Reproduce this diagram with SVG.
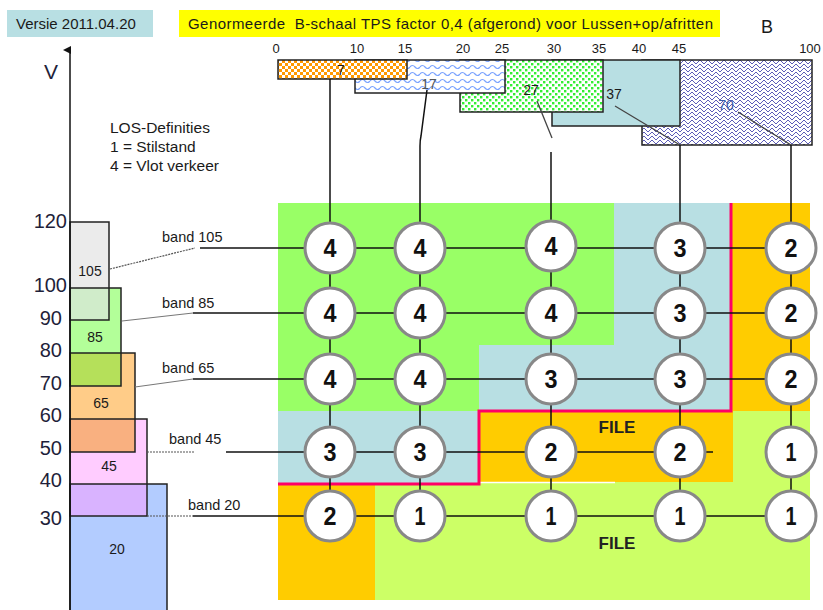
<svg xmlns="http://www.w3.org/2000/svg" width="823" height="610" viewBox="0 0 823 610">
<style>
text{font-family:"Liberation Sans",Arial,sans-serif;fill:#1a1a1a}
.ax{font-size:20px;text-anchor:end;fill:#1f1f3a}
.sc{font-size:13px;text-anchor:middle}
.bl{font-size:14.5px}
.bx{font-size:14px;text-anchor:middle}
.num{font-family:"Liberation Sans Narrow","Liberation Sans",Arial,sans-serif;font-size:25px;font-weight:bold;text-anchor:middle;fill:#111}
.node circle{fill:#fff;stroke:#888;stroke-width:3}
.ol{stroke:#222;stroke-width:1.5}
.olb{fill:none;stroke:#222;stroke-width:1.5}
.ln{fill:none;stroke:#111;stroke-width:1.5}
.ld{fill:none;stroke:#444;stroke-width:1.3}
.dt{fill:none;stroke:#555;stroke-width:1.2;stroke-dasharray:2 1}
.file{font-size:17px;font-weight:bold;text-anchor:middle;fill:#222}
</style>
<defs>
<pattern id="pOr" width="6" height="6" patternUnits="userSpaceOnUse"><rect width="6" height="6" fill="#fff"/><rect x="0" y="0" width="3" height="3" fill="#ff9900"/><rect x="3" y="3" width="3" height="3" fill="#ff9900"/></pattern>
<pattern id="pBl" width="10" height="7" patternUnits="userSpaceOnUse"><rect width="10" height="7" fill="#fff"/><path d="M0,4 Q2.5,1 5,4 T10,4" fill="none" stroke="#7aa3ff" stroke-width="1.2"/></pattern>
<pattern id="pGr" width="6" height="6" patternUnits="userSpaceOnUse"><rect width="6" height="6" fill="#fff"/><rect x="0" y="0" width="2.4" height="2.4" fill="#33ee33"/><rect x="3" y="3" width="2.4" height="2.4" fill="#33ee33"/></pattern>
<pattern id="pNv" width="8" height="8" patternUnits="userSpaceOnUse"><rect width="8" height="8" fill="#fff"/><path d="M0,4 L4,0 L8,4 M0,8 L4,4 L8,8" fill="none" stroke="#4a4ab0" stroke-width="0.9"/></pattern>
<marker id="arr" markerWidth="8" markerHeight="8" refX="4" refY="7" orient="auto-start-reverse" markerUnits="userSpaceOnUse"><path d="M0,8 L4,0 L8,8 Z" fill="#111"/></marker>
</defs>

<!-- header -->
<g id="versie"><rect x="7" y="10" width="146" height="27" fill="#b8dfe3"/><text x="16" y="29" style="font-size:15px">Versie 2011.04.20</text></g>
<g id="title"><rect x="179" y="10" width="541" height="27" fill="#ffff00"/><text x="188" y="29" style="font-size:15px" textLength="525" lengthAdjust="spacing" xml:space="preserve">Genormeerde  B-schaal TPS factor 0,4 (afgerond) voor Lussen+op/afritten</text></g>
<text x="767" y="33" style="font-size:18px;text-anchor:middle">B</text>

<!-- scale -->
<g id="scale">
<text class="sc" x="276" y="53">0</text><text class="sc" x="357" y="53">10</text><text class="sc" x="405" y="53">15</text><text class="sc" x="463" y="53">20</text><text class="sc" x="502" y="53">25</text><text class="sc" x="554" y="53">30</text><text class="sc" x="599" y="53">35</text><text class="sc" x="639" y="53">40</text><text class="sc" x="679" y="53">45</text><text class="sc" x="810" y="53">100</text>
</g>

<!-- B-scale boxes -->
<g id="b70"><rect x="642" y="60" width="170" height="85" fill="url(#pNv)" class="ol"/></g>
<g id="b37"><rect x="552" y="60" width="128" height="66" fill="#b8dfe3" class="ol"/></g>
<g id="b27"><rect x="460" y="60" width="143" height="52" fill="url(#pGr)" class="ol"/></g>
<g id="b17"><rect x="355" y="60" width="150" height="33" fill="url(#pBl)" class="ol"/></g>
<g id="b7"><rect x="278" y="60" width="129" height="19" fill="url(#pOr)" class="ol"/></g>
<text class="bx" x="341" y="75">7</text>
<text class="bx" x="429" y="89" style="fill:#555">17</text>
<text class="bx" x="531" y="95">27</text>
<text class="bx" x="614" y="99">37</text>
<text class="bx" x="726" y="110" style="fill:#3b5aa8">70</text>

<!-- LOS -->
<g id="los" style="font-size:15.5px"><text x="110" y="133">LOS-Definities</text><text x="110" y="152">1 = Stilstand</text><text x="110" y="171">4 = Vlot verkeer</text></g>

<!-- V axis -->
<g id="vaxis">
<text x="51" y="79" style="font-size:21px;text-anchor:middle;fill:#1f1f3a">V</text>
<text class="ax" x="67" y="228">120</text><text class="ax" x="67" y="292">100</text><text class="ax" x="62" y="325">90</text><text class="ax" x="62" y="357">80</text><text class="ax" x="62" y="390">70</text><text class="ax" x="62" y="422">60</text><text class="ax" x="62" y="455">50</text><text class="ax" x="62" y="487">40</text><text class="ax" x="62" y="525">30</text>
</g>

<!-- band boxes -->
<g id="bands">
<rect x="70" y="222" width="39" height="98" fill="#ebebeb"/>
<rect x="70" y="288" width="51" height="98" fill="#b3ff99"/>
<rect x="70" y="288" width="39" height="32" fill="#d0ecca"/>
<rect x="70" y="353" width="65" height="99" fill="#ffcc88"/>
<rect x="70" y="353" width="51" height="33" fill="#b5e05a"/>
<rect x="70" y="419" width="77" height="97" fill="#ffccff"/>
<rect x="70" y="419" width="65" height="33" fill="#f9b080"/>
<rect x="70" y="484" width="97" height="130" fill="#b3ccff"/>
<rect x="70" y="484" width="77" height="32" fill="#d9b3ff"/>
<rect class="olb" x="70" y="222" width="39" height="98"/>
<rect class="olb" x="70" y="288" width="51" height="98"/>
<rect class="olb" x="70" y="353" width="65" height="99"/>
<rect class="olb" x="70" y="419" width="77" height="97"/>
<rect class="olb" x="70" y="484" width="97" height="130"/>
<text class="bx" x="90" y="276">105</text><text class="bx" x="95" y="342">85</text><text class="bx" x="101" y="408">65</text><text class="bx" x="109" y="471">45</text><text class="bx" x="117" y="554">20</text>
</g>
<line x1="70" y1="610" x2="70" y2="50" stroke="#111" stroke-width="1.5" marker-end="url(#arr)"/>

<!-- background areas -->
<g id="areas">
<path d="M278,203 H614 V345 H479 V411 H278 Z" fill="#99ff66"/>
<path d="M614,203 H731 V411 H479 V483 H278 V411 H479 V345 H614 Z" fill="#b8dfe3"/>
<rect x="731" y="203" width="79" height="208" fill="#ffcc00"/>
<rect x="479" y="411" width="254" height="71" fill="#ffcc00"/>
<rect x="733" y="411" width="77" height="72" fill="#ccff66"/>
<rect x="375" y="483" width="435" height="117" fill="#ccff66"/>
<rect x="479" y="482" width="254" height="1" fill="#ccff66"/>
<rect x="278" y="483" width="97" height="117" fill="#ffcc00"/>
<line x1="479" y1="482.5" x2="615" y2="482.5" stroke="#fff" stroke-width="1.5"/>
<path d="M731,203 V411 H479 V484 H278" fill="none" stroke="#ff0066" stroke-width="3"/>
<text class="file" x="617" y="433">FILE</text>
<text class="file" x="617" y="549">FILE</text>
</g>

<!-- band labels -->
<g id="bandlabels" class="bl">
<text x="162" y="242">band 105</text><text x="162" y="308">band 85</text><text x="162" y="373">band 65</text><text x="169" y="444">band 45</text><text x="188" y="510">band 20</text>
</g>

<!-- connectors -->
<g id="connectors">
<path class="dt" d="M110,269 L195,248"/>
<path class="ld" d="M122,321 L193,313" style="stroke:#777;stroke-width:1"/>
<path class="ld" d="M135,387 L193,379" style="stroke:#777;stroke-width:1"/>
<path class="dt" d="M147,452 L194,452"/>
<path class="dt" d="M147,516 L193,516"/>
<path class="ln" d="M200,248 H791"/>
<path class="ln" d="M193,313 H791"/>
<path class="ln" d="M193,379 H791"/>
<path class="ln" d="M226,452 H713"/>
<path class="ln" d="M193,516 H791"/>
<path class="ln" d="M330,79 V516"/>
<path class="ln" d="M427,90 L421,136 Q420,140 420,146 V516"/>
<path class="ld" d="M537,101 L552,138"/>
<path class="ln" d="M551,152 V516"/>
<path class="ld" d="M615,106 L680,145"/>
<path class="ln" d="M680,145 V516"/>
<path class="ld" d="M738,112 L791,145"/>
<path class="ln" d="M791,145 V516"/>
</g>

<!-- nodes -->
<g id="n11" class="node"><circle cx="330" cy="248" r="25"/><text class="num" x="330" y="257" textLength="13" lengthAdjust="spacingAndGlyphs">4</text></g>
<g id="n12" class="node"><circle cx="420" cy="248" r="25"/><text class="num" x="420" y="257" textLength="13" lengthAdjust="spacingAndGlyphs">4</text></g>
<g id="n13" class="node"><circle cx="551" cy="246" r="25"/><text class="num" x="551" y="255" textLength="13" lengthAdjust="spacingAndGlyphs">4</text></g>
<g id="n14" class="node"><circle cx="680" cy="248" r="25"/><text class="num" x="680" y="257" textLength="13" lengthAdjust="spacingAndGlyphs">3</text></g>
<g id="n15" class="node"><circle cx="791" cy="248" r="25"/><text class="num" x="791" y="257" textLength="13" lengthAdjust="spacingAndGlyphs">2</text></g>
<g id="n21" class="node"><circle cx="330" cy="313" r="25"/><text class="num" x="330" y="322" textLength="13" lengthAdjust="spacingAndGlyphs">4</text></g>
<g id="n22" class="node"><circle cx="420" cy="313" r="25"/><text class="num" x="420" y="322" textLength="13" lengthAdjust="spacingAndGlyphs">4</text></g>
<g id="n23" class="node"><circle cx="551" cy="313" r="25"/><text class="num" x="551" y="322" textLength="13" lengthAdjust="spacingAndGlyphs">4</text></g>
<g id="n24" class="node"><circle cx="680" cy="313" r="25"/><text class="num" x="680" y="322" textLength="13" lengthAdjust="spacingAndGlyphs">3</text></g>
<g id="n25" class="node"><circle cx="791" cy="313" r="25"/><text class="num" x="791" y="322" textLength="13" lengthAdjust="spacingAndGlyphs">2</text></g>
<g id="n31" class="node"><circle cx="330" cy="379" r="25"/><text class="num" x="330" y="388" textLength="13" lengthAdjust="spacingAndGlyphs">4</text></g>
<g id="n32" class="node"><circle cx="420" cy="379" r="25"/><text class="num" x="420" y="388" textLength="13" lengthAdjust="spacingAndGlyphs">4</text></g>
<g id="n33" class="node"><circle cx="551" cy="379" r="25"/><text class="num" x="551" y="388" textLength="13" lengthAdjust="spacingAndGlyphs">3</text></g>
<g id="n34" class="node"><circle cx="680" cy="379" r="25"/><text class="num" x="680" y="388" textLength="13" lengthAdjust="spacingAndGlyphs">3</text></g>
<g id="n35" class="node"><circle cx="791" cy="379" r="25"/><text class="num" x="791" y="388" textLength="13" lengthAdjust="spacingAndGlyphs">2</text></g>
<g id="n41" class="node"><circle cx="330" cy="452" r="25"/><text class="num" x="330" y="461" textLength="13" lengthAdjust="spacingAndGlyphs">3</text></g>
<g id="n42" class="node"><circle cx="420" cy="452" r="25"/><text class="num" x="420" y="461" textLength="13" lengthAdjust="spacingAndGlyphs">3</text></g>
<g id="n43" class="node"><circle cx="551" cy="452" r="25"/><text class="num" x="551" y="461" textLength="13" lengthAdjust="spacingAndGlyphs">2</text></g>
<g id="n44" class="node"><circle cx="680" cy="452" r="25"/><text class="num" x="680" y="461" textLength="13" lengthAdjust="spacingAndGlyphs">2</text></g>
<g id="n45" class="node"><circle cx="791" cy="452" r="25"/><text class="num" x="791" y="461" textLength="11" lengthAdjust="spacingAndGlyphs">1</text></g>
<g id="n51" class="node"><circle cx="330" cy="516" r="25"/><text class="num" x="330" y="525" textLength="13" lengthAdjust="spacingAndGlyphs">2</text></g>
<g id="n52" class="node"><circle cx="420" cy="516" r="25"/><text class="num" x="420" y="525" textLength="11" lengthAdjust="spacingAndGlyphs">1</text></g>
<g id="n53" class="node"><circle cx="551" cy="516" r="25"/><text class="num" x="551" y="525" textLength="11" lengthAdjust="spacingAndGlyphs">1</text></g>
<g id="n54" class="node"><circle cx="680" cy="516" r="25"/><text class="num" x="680" y="525" textLength="11" lengthAdjust="spacingAndGlyphs">1</text></g>
<g id="n55" class="node"><circle cx="791" cy="516" r="25"/><text class="num" x="791" y="525" textLength="11" lengthAdjust="spacingAndGlyphs">1</text></g>
</svg>
